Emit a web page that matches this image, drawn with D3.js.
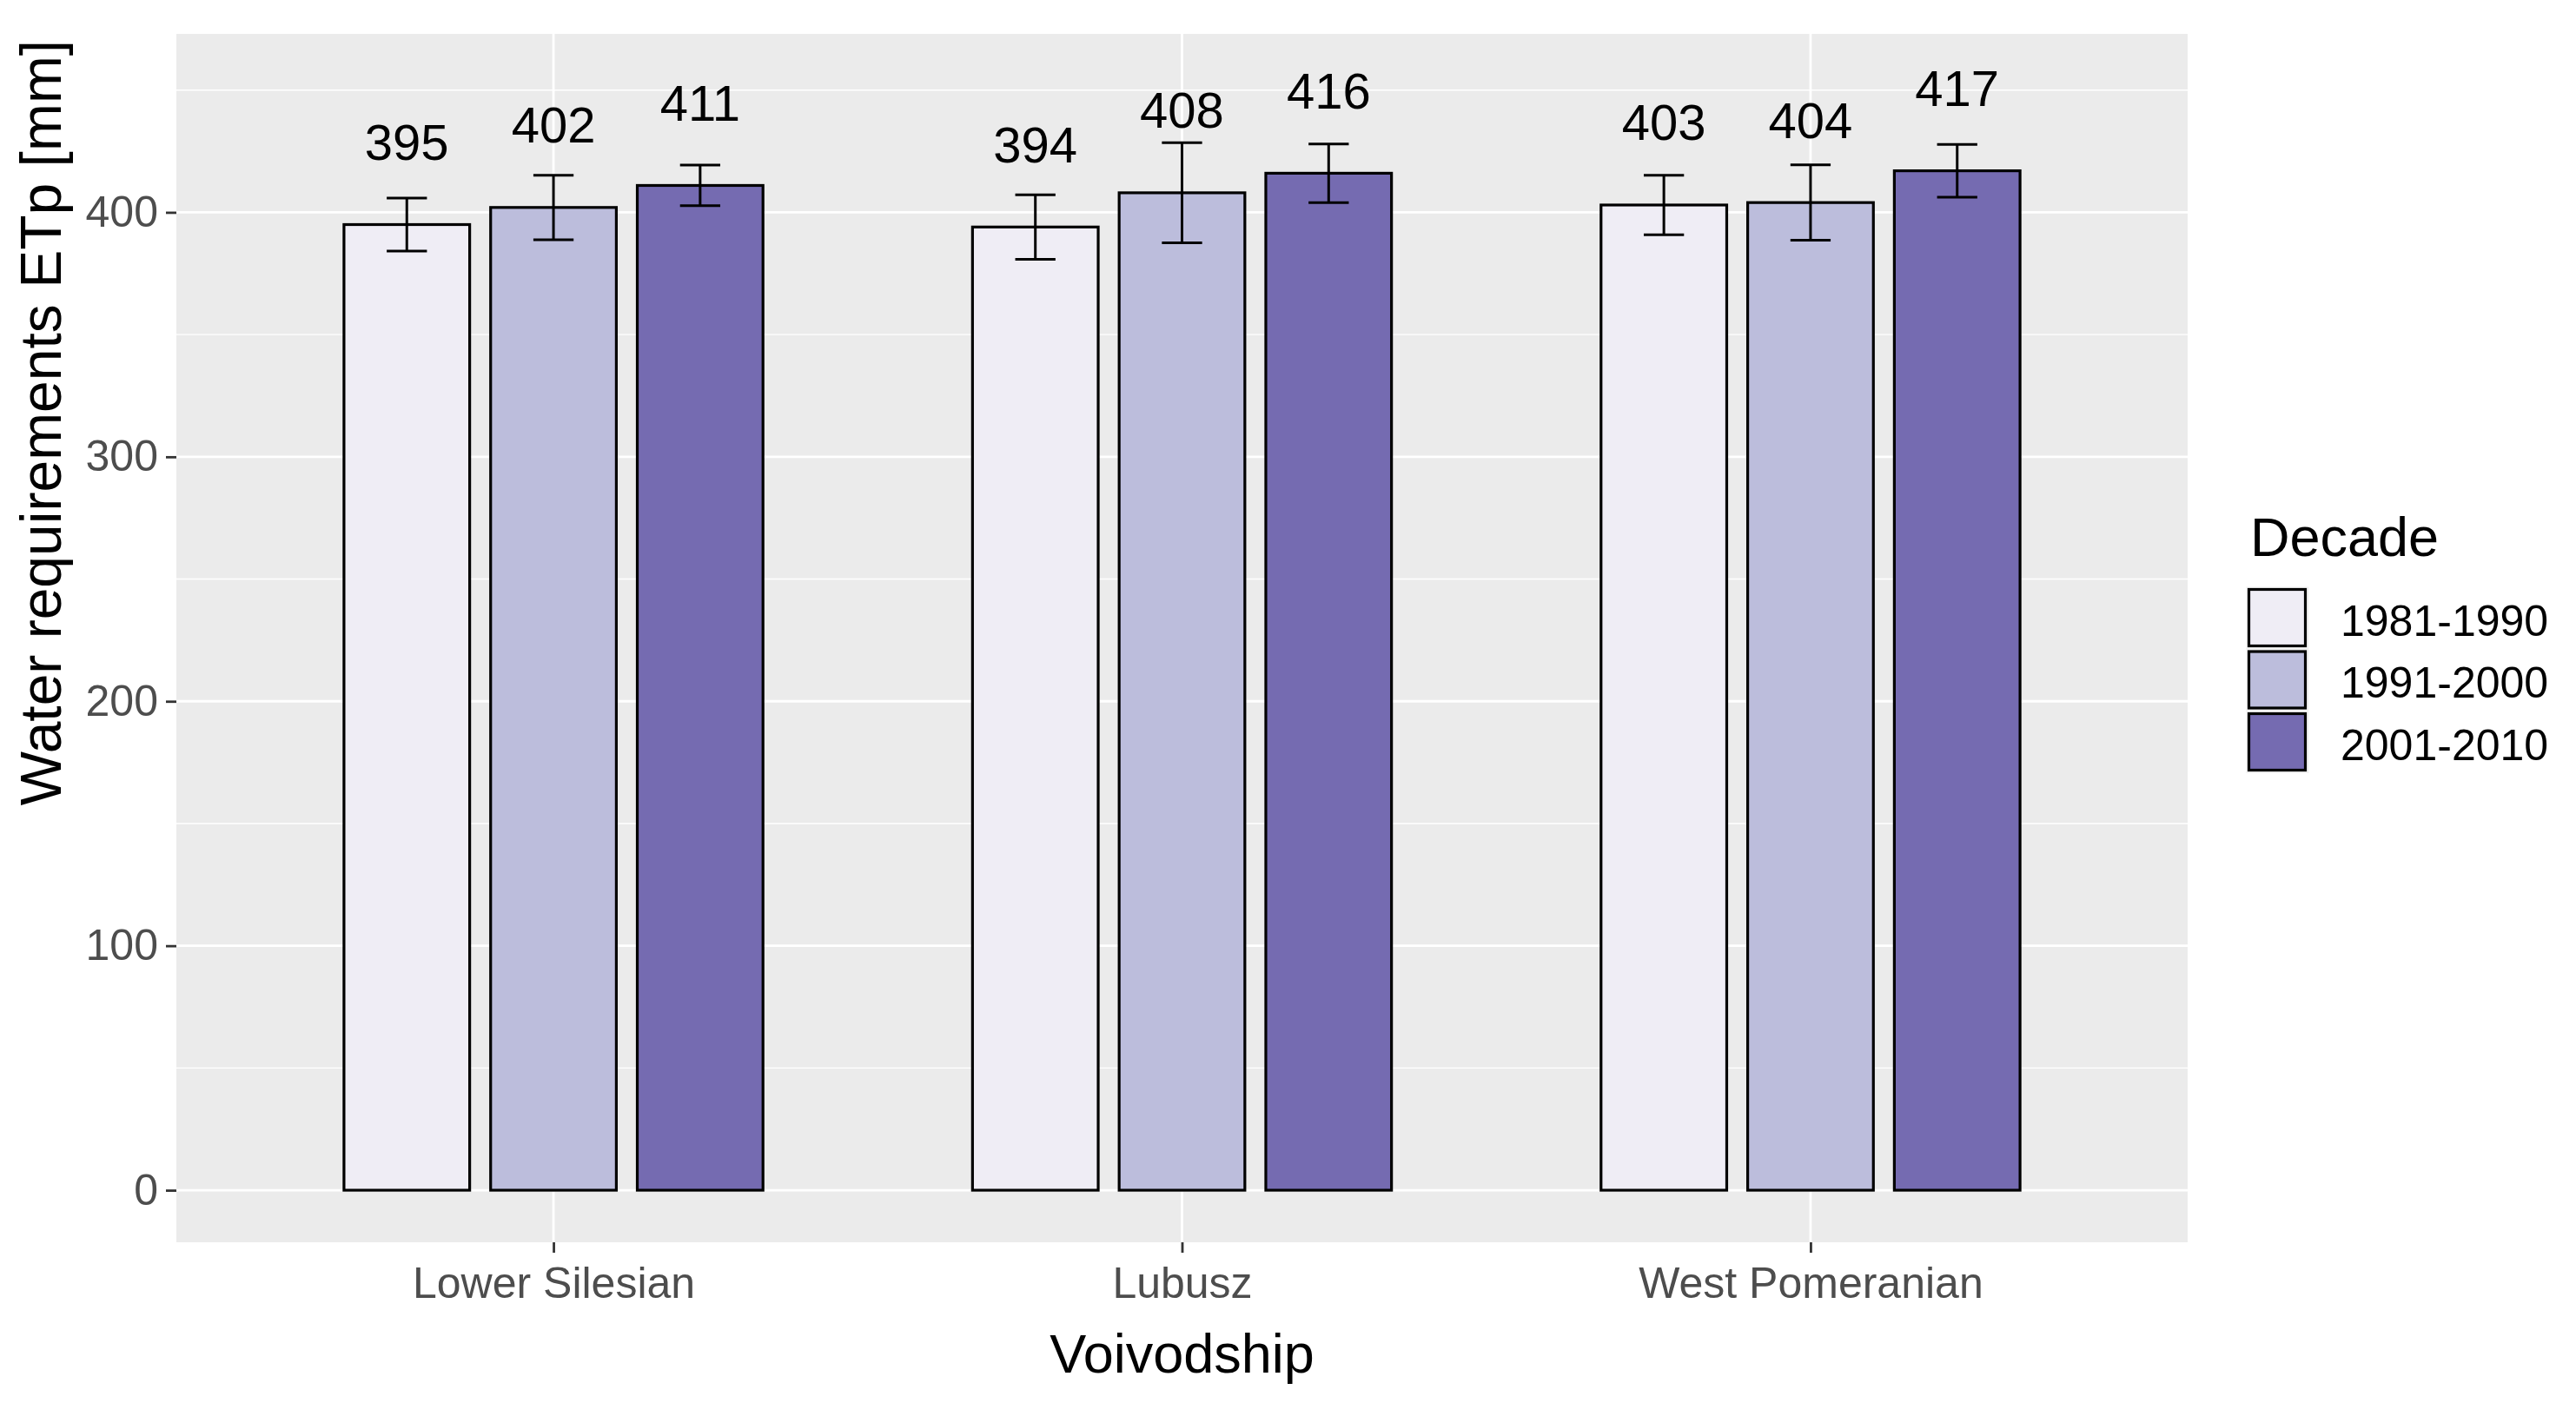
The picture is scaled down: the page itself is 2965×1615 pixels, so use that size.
<!DOCTYPE html>
<html>
<head>
<meta charset="utf-8">
<script src="https://cdn.jsdelivr.net/npm/d3@7"></script>
<style>
  html, body { margin: 0; padding: 0; background: #fff; }
  svg { display: block; font-family: "Liberation Sans", Arial, sans-serif; }
</style>
</head>
<body>
<div id="chart"></div>
<script>
(function () {
  'use strict';

  /* -----------------------------------------------------------
     Data — mean ETp per voivodship and decade, with error bars
  ----------------------------------------------------------- */
  var CATEGORIES = ["Lower Silesian", "Lubusz", "West Pomeranian"];
  var DECADES    = ["1981-1990", "1991-2000", "2001-2010"];

  var MEAN_1981 = [395, 394, 403];
  var MEAN_1991 = [402, 408, 404];
  var MEAN_2001 = [411, 416, 417];

  var ERR_1981 = [10.8, 13.2, 12.2];
  var ERR_1991 = [13.2, 20.5, 15.4];
  var ERR_2001 = [8.3, 12.0, 10.8];

  var Y_TICKS = [0, 100, 200, 300, 400];
  var COLORS  = ["#efedf5", "#bcbddc", "#756bb1"];

  var MEANS = [MEAN_1981, MEAN_1991, MEAN_2001];
  var ERRS  = [ERR_1981, ERR_1991, ERR_2001];

  var rows = [];
  CATEGORIES.forEach(function (c, ci) {
    DECADES.forEach(function (d, di) {
      rows.push({ cat: c, dec: d, di: di, v: MEANS[di][ci], e: ERRS[di][ci] });
    });
  });

  /* -----------------------------------------------------------
     Layout
  ----------------------------------------------------------- */
  var W = 2965, H = 1615;
  var panel = { left: 203, right: 2518, top: 39, bottom: 1430 };
  var LABEL_OFFSET = 26.5;   // label baseline above bar, data units
  var FONT = '"Liberation Sans", Arial, sans-serif';

  var svg = d3.select('#chart').append('svg')
    .attr('width', W).attr('height', H)
    .attr('viewBox', '0 0 ' + W + ' ' + H);

  var x0 = d3.scalePoint()
    .domain(CATEGORIES)
    .range([panel.left, panel.right])
    .padding(0.6);

  var step = x0.step();
  var x1 = d3.scaleBand()
    .domain(DECADES)
    .range([-0.35 * step, 0.35 * step])
    .paddingInner(1 / 7)
    .paddingOuter(1 / 14);

  var y = d3.scaleLinear()
    .domain([-21.3, 473])
    .range([panel.bottom, panel.top]);

  var color = d3.scaleOrdinal().domain(DECADES).range(COLORS);

  /* Panel background + grid */
  svg.append('rect')
    .attr('x', panel.left).attr('y', panel.top)
    .attr('width', panel.right - panel.left)
    .attr('height', panel.bottom - panel.top)
    .attr('fill', '#ebebeb');

  var minor = d3.range(50, 473, 100);
  svg.append('g').selectAll('line')
    .data(minor).join('line')
    .attr('x1', panel.left).attr('x2', panel.right)
    .attr('y1', y).attr('y2', y)
    .attr('stroke', '#fff').attr('stroke-width', 1.4);

  svg.append('g').selectAll('line')
    .data(Y_TICKS).join('line')
    .attr('x1', panel.left).attr('x2', panel.right)
    .attr('y1', y).attr('y2', y)
    .attr('stroke', '#fff').attr('stroke-width', 2.8);

  svg.append('g').selectAll('line')
    .data(CATEGORIES).join('line')
    .attr('x1', x0).attr('x2', x0)
    .attr('y1', panel.top).attr('y2', panel.bottom)
    .attr('stroke', '#fff').attr('stroke-width', 2.8);

  /* Bars */
  var bw = x1.bandwidth();
  svg.append('g').selectAll('rect')
    .data(rows).join('rect')
    .attr('x', function (d) { return x0(d.cat) + x1(d.dec); })
    .attr('y', function (d) { return y(d.v); })
    .attr('width', bw)
    .attr('height', function (d) { return y(0) - y(d.v); })
    .attr('fill', function (d) { return color(d.dec); })
    .attr('stroke', '#000').attr('stroke-width', 3.2);

  /* Error bars */
  var cap = bw * 0.16;
  var eb = svg.append('g').attr('stroke', '#000').attr('stroke-width', 3);
  rows.forEach(function (d) {
    var cx = x0(d.cat) + x1(d.dec) + bw / 2;
    eb.append('line')
      .attr('x1', cx).attr('x2', cx)
      .attr('y1', y(d.v + d.e)).attr('y2', y(d.v - d.e));
    eb.append('line')
      .attr('x1', cx - cap).attr('x2', cx + cap)
      .attr('y1', y(d.v + d.e)).attr('y2', y(d.v + d.e));
    eb.append('line')
      .attr('x1', cx - cap).attr('x2', cx + cap)
      .attr('y1', y(d.v - d.e)).attr('y2', y(d.v - d.e));
  });

  /* Value labels */
  svg.append('g').selectAll('text')
    .data(rows).join('text')
    .attr('x', function (d) { return x0(d.cat) + x1(d.dec) + bw / 2; })
    .attr('y', function (d) { return y(d.v + LABEL_OFFSET); })
    .attr('text-anchor', 'middle')
    .attr('font-size', 58)
    .attr('fill', '#000')
    .text(function (d) { return d.v; });

  /* -----------------------------------------------------------
     Axes
  ----------------------------------------------------------- */
  var yAxis = svg.append('g')
    .attr('transform', 'translate(' + panel.left + ',0)')
    .call(d3.axisLeft(y).tickValues(Y_TICKS).tickSize(12).tickPadding(9));
  yAxis.select('.domain').remove();
  yAxis.selectAll('line').attr('stroke', '#333').attr('stroke-width', 2.8);
  yAxis.selectAll('text')
    .attr('font-family', FONT).attr('font-size', 50).attr('fill', '#4d4d4d');

  var xAxis = svg.append('g')
    .attr('transform', 'translate(0,' + panel.bottom + ')')
    .call(d3.axisBottom(x0).tickSize(12).tickPadding(16.5));
  xAxis.select('.domain').remove();
  xAxis.selectAll('line').attr('stroke', '#333').attr('stroke-width', 2.8);
  xAxis.selectAll('text')
    .attr('font-family', FONT).attr('font-size', 50).attr('fill', '#4d4d4d');

  svg.append('text')
    .attr('x', (panel.left + panel.right) / 2)
    .attr('y', 1580)
    .attr('text-anchor', 'middle')
    .attr('font-size', 63)
    .text('Voivodship');

  svg.append('text')
    .attr('transform', 'translate(70,486.5) rotate(-90)')
    .attr('text-anchor', 'middle')
    .attr('font-size', 66)
    .text('Water requirements ETp [mm]');

  /* -----------------------------------------------------------
     Legend
  ----------------------------------------------------------- */
  var lg = svg.append('g').attr('transform', 'translate(2587,677)');
  lg.append('text')
    .attr('x', 3).attr('y', -37)
    .attr('font-size', 63)
    .text('Decade');

  var keyStep = 71.5;
  var item = lg.selectAll('g.item')
    .data(DECADES).join('g')
    .attr('class', 'item')
    .attr('transform', function (d, i) { return 'translate(0,' + (i * keyStep) + ')'; });

  item.append('rect')
    .attr('x', -1.5).attr('y', -1.5)
    .attr('width', 72).attr('height', keyStep)
    .attr('fill', '#f2f2f2');
  item.append('rect')
    .attr('x', 1.5).attr('y', 1.5)
    .attr('width', 65).attr('height', 65)
    .attr('fill', function (d) { return color(d); })
    .attr('stroke', '#000').attr('stroke-width', 3.2);
  item.append('text')
    .attr('x', 107).attr('y', 54.5)
    .attr('font-size', 50)
    .text(function (d) { return d; });
})();
</script>
</body>
</html>
